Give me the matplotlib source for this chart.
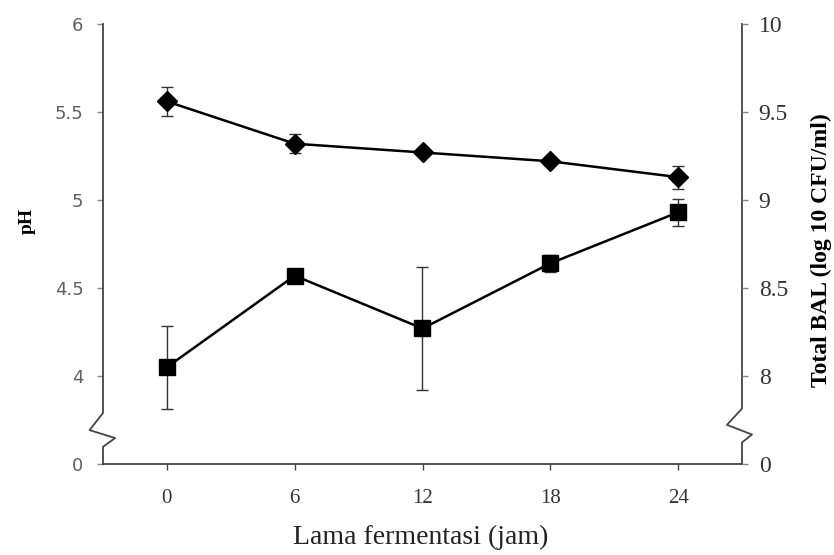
import matplotlib
matplotlib.use("Agg")
import matplotlib.pyplot as plt

# data
hours = [0, 6, 12, 18, 24]
ph = [5.56, 5.32, 5.27, 5.22, 5.13]
ph_err = [0.08, 0.055, 0.01, 0.01, 0.065]
bal = [8.05, 8.57, 8.27, 8.64, 8.93]
bal_err = [0.235, 0.01, 0.35, 0.05, 0.075]

left_ticks = [3.5, 4, 4.5, 5, 5.5, 6]
left_labels = ['0', '4', '4.5', '5', '5.5', '6']
right_ticks = [7.5, 8, 8.5, 9, 9.5, 10]
right_labels = ['0', '8', '8.5', '9', '9.5', '10']

serif = 'Liberation Serif'
axis_col = '#444444'

fig = plt.figure(figsize=(8.34, 5.55), dpi=100)
ax = fig.add_axes([103 / 834, 1 - 464 / 555, 639 / 834, 440 / 555])
ax2 = ax.twinx()

# pH (diamonds) on left axis
ax.errorbar(hours, ph, yerr=ph_err, fmt='none', ecolor='#333333',
            elinewidth=1, capsize=4, capthick=1, zorder=2)
ax.plot(hours, ph, color='black', lw=1.8, marker='D', ms=10,
        mfc='black', mec='black', zorder=3, clip_on=False)

# total BAL (squares) on right axis
ax2.errorbar(hours, bal, yerr=bal_err, fmt='none', ecolor='#333333',
             elinewidth=1, capsize=4, capthick=1, zorder=2)
ax2.plot(hours, bal, color='black', lw=1.8, marker='s', ms=11.5,
         mfc='black', mec='black', zorder=3, clip_on=False)

ax.set_xlim(-3, 27)
ax.set_ylim(3.5, 6)
ax2.set_ylim(7.5, 10)

ax.set_xticks(hours)
ax.set_xticklabels([str(h) for h in hours], fontfamily=serif, fontsize=15,
                   color='#333333')
ax.set_yticks(left_ticks)
ax.set_yticklabels(left_labels, fontfamily='DejaVu Sans', fontsize=13,
                   color='#606060')
ax2.set_yticks(right_ticks)
ax2.set_yticklabels(right_labels, fontfamily=serif, fontsize=17,
                    color='#333333')

ax.tick_params(axis='x', direction='out', length=4, width=1,
               color=axis_col, pad=14)
ax.tick_params(axis='y', direction='out', length=4, width=1,
               color='#888888', pad=10)
ax2.tick_params(axis='y', direction='out', length=4, width=1,
                color='#888888', pad=8)

for a in (ax, ax2):
    for s in ('left', 'right', 'top'):
        a.spines[s].set_visible(False)
ax2.spines['bottom'].set_visible(False)
ax.spines['bottom'].set_color(axis_col)
ax.spines['bottom'].set_linewidth(1.3)

# vertical axes with a break mark
lx = [0, 0, 0.019, -0.021, 0, 0]
ly = [0, 0.039, 0.059, 0.077, 0.116, 1]
ax.plot(lx, ly, transform=ax.transAxes, color=axis_col, lw=1.3,
        clip_on=False, zorder=5)
rx = [1, 1, 1.0156, 0.9765, 1, 1]
ry = [0, 0.049, 0.067, 0.089, 0.126, 1]
ax.plot(rx, ry, transform=ax.transAxes, color=axis_col, lw=1.3,
        clip_on=False, zorder=5)

fig.text(27 / 834, 1 - 221 / 555, 'pH', rotation=90, ha='center', va='center',
         fontfamily=serif, fontweight='bold', fontsize=14)
fig.text(821 / 834, 1 - 250 / 555, 'Total BAL (log 10 CFU/ml)', rotation=90,
         ha='center', va='center', fontfamily=serif, fontweight='bold',
         fontsize=17)
fig.text(421 / 834, 1 - 537 / 555, 'Lama fermentasi (jam)', ha='center',
         va='center', fontfamily=serif, fontsize=20, color='#222222')

fig.savefig('out.png', dpi=100)
